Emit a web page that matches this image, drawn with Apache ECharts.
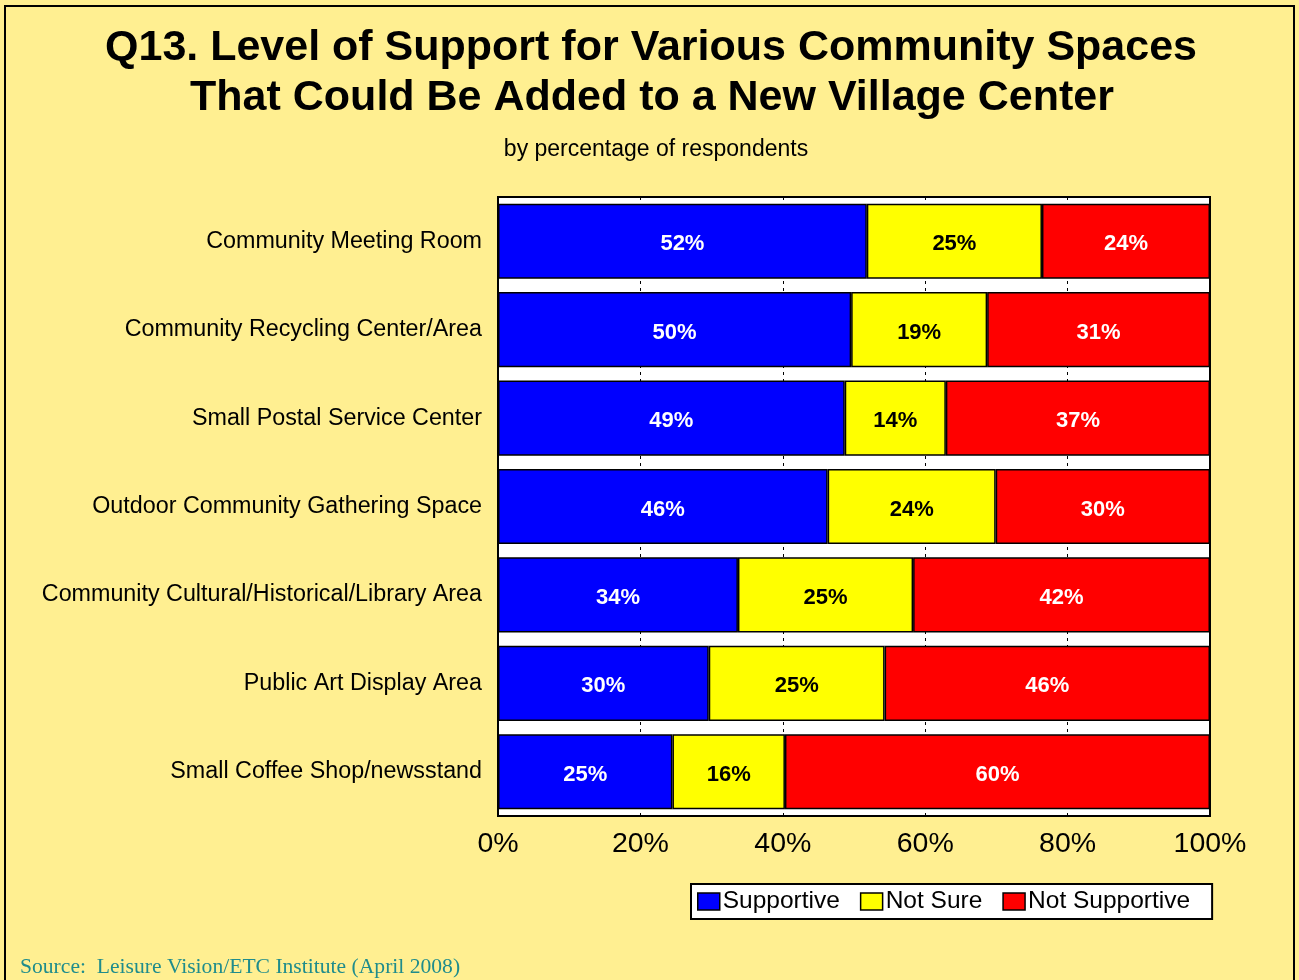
<!DOCTYPE html>
<html>
<head>
<meta charset="utf-8">
<script src="https://cdn.jsdelivr.net/npm/echarts@6/dist/echarts.min.js"></script>
<style>html,body{margin:0;padding:0;background:#FFEF91;}#c{width:1299px;height:980px;}</style>
</head>
<body>
<div id="c"></div>
<script>
const categories = [
  "Community Meeting Room",
  "Community Recycling Center/Area",
  "Small Postal Service Center",
  "Outdoor Community Gathering Space",
  "Community Cultural/Historical/Library Area",
  "Public Art Display Area",
  "Small Coffee Shop/newsstand"
];
const supportive    = [51.8, 49.6, 48.7, 46.3, 33.7, 29.6, 24.5];
const notSure       = [24.6, 19.1, 14.2, 23.6, 24.6, 24.7, 15.8];
const notSupportive = [23.6, 31.3, 37.1, 30.1, 41.7, 45.7, 59.7];
const xTicks = [0, 20, 40, 60, 80, 100];
const titleLines = [
  'Q13. Level of Support for Various Community Spaces',
  'That Could Be Added to a New Village Center'
];
const subtitle = 'by percentage of respondents';
const sourceText = 'Source:  Leisure Vision/ETC Institute (April 2008)';

const FONT = 'Liberation Sans, Arial, sans-serif';
const chart = echarts.init(document.getElementById('c'), null, {renderer: 'canvas'});

function mkSeries(name, data, color, labelColor) {
  return {
    name: name,
    type: 'bar',
    stack: 'total',
    data: data,
    barCategoryGap: '15%',
    itemStyle: {color: color, borderColor: '#000', borderWidth: 1.5},
    label: {
      show: true,
      position: 'inside',
      offset: [0, 3],
      color: labelColor,
      fontFamily: FONT,
      fontWeight: 'bold',
      fontSize: 22,
      formatter: p => Math.round(p.value) + '%'
    }
  };
}

chart.setOption({
  backgroundColor: '#FFEF91',
  animation: false,
  legend: {
    data: ['Supportive', 'Not Sure', 'Not Supportive'],
    left: 691, top: 884,
    backgroundColor: '#fff',
    borderColor: '#000', borderWidth: 2,
    padding: [5, 22, 5, 6],
    itemGap: 20,
    itemWidth: 22, itemHeight: 17,
    icon: 'rect',
    itemStyle: {borderColor: '#000', borderWidth: 1.5},
    textStyle: {fontFamily: FONT, fontSize: 24.5, color: '#000', padding: [0, 0, 0, -2]}
  },
  grid: {
    left: 498, right: 89, top: 197, height: 619,
    show: true, backgroundColor: '#fff', borderColor: '#000', borderWidth: 2
  },
  xAxis: {
    type: 'value', min: 0, max: 100, interval: 20,
    axisLine: {show: false}, axisTick: {show: false},
    splitLine: {show: true, lineStyle: {color: '#000', type: [3, 4], width: 1}},
    axisLabel: {
      margin: 14,
      fontFamily: FONT, fontSize: 28.5, color: '#000',
      formatter: v => (xTicks.indexOf(v) >= 0 ? v + '%' : '')
    }
  },
  yAxis: {
    type: 'category', data: categories, inverse: true,
    axisLine: {show: false}, axisTick: {show: false},
    axisLabel: {margin: 16, padding: [5, 0, 0, 0], fontFamily: FONT, fontSize: 23.3, color: '#000'}
  },
  series: [
    mkSeries('Supportive', supportive, '#0000FF', '#fff'),
    mkSeries('Not Sure', notSure, '#FFFF00', '#000'),
    mkSeries('Not Supportive', notSupportive, '#FF0000', '#fff')
  ],
  graphic: [
    {
      type: 'rect', silent: true, z: 100,
      shape: {x: 5, y: 6, width: 1289, height: 990},
      style: {fill: 'none', stroke: '#000', lineWidth: 2}
    },
    {
      type: 'text', x: 651, y: 48, z: 100,
      style: {text: titleLines[0], fill: '#000', textAlign: 'center', textVerticalAlign: 'middle',
        font: 'bold 43px "Liberation Sans", Arial, sans-serif'}
    },
    {
      type: 'text', x: 652, y: 98, z: 100,
      style: {text: titleLines[1], fill: '#000', textAlign: 'center', textVerticalAlign: 'middle',
        font: 'bold 43px "Liberation Sans", Arial, sans-serif'}
    },
    {
      type: 'text', x: 656, y: 150, z: 100,
      style: {text: subtitle, fill: '#000', textAlign: 'center', textVerticalAlign: 'middle',
        font: '23px "Liberation Sans", Arial, sans-serif'}
    },
    {
      type: 'text', x: 20, y: 967, z: 100,
      style: {text: sourceText, fill: '#1F8C8C', textVerticalAlign: 'middle',
        font: '21.6px "Liberation Serif", "Times New Roman", serif'}
    }
  ]
});
</script>
</body>
</html>
